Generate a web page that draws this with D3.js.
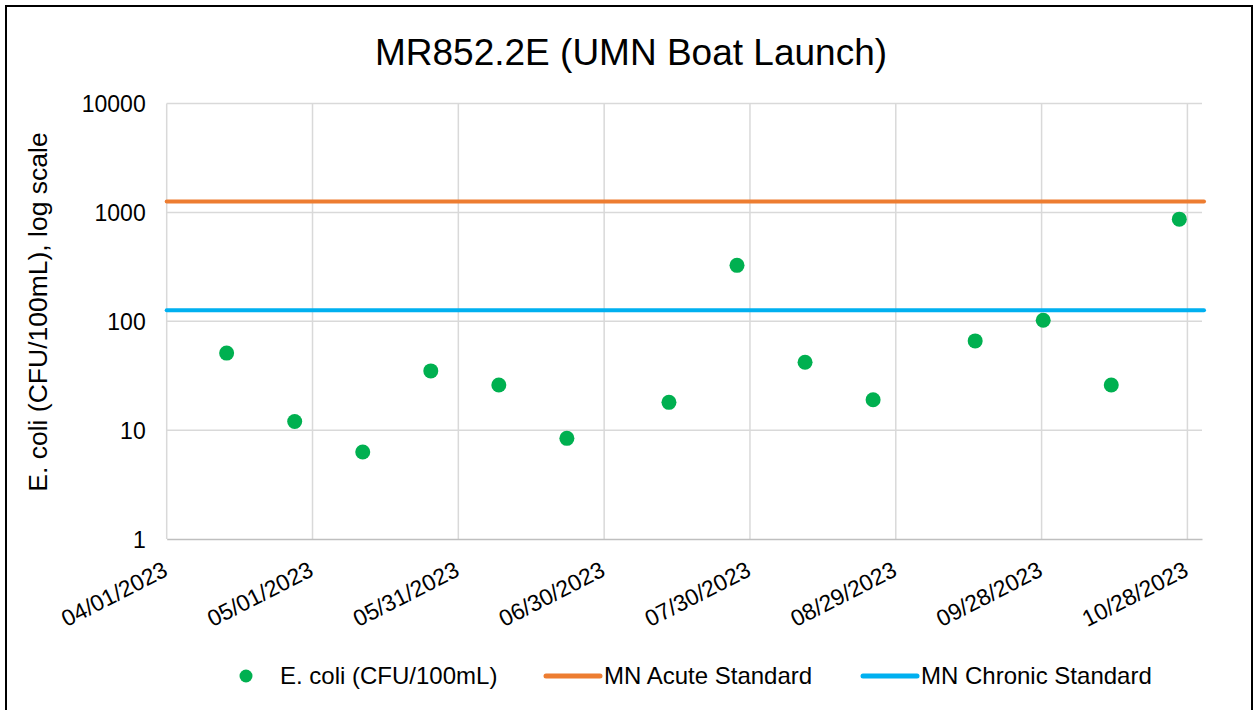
<!DOCTYPE html>
<html><head><meta charset="utf-8">
<script src="https://cdn.jsdelivr.net/npm/d3@7"></script>
<style>body{margin:0;background:#fff}svg{display:block;font-family:"Liberation Sans",Arial,sans-serif}</style>
</head><body><svg id="c" width="1255" height="710"></svg>
<script>
const title = "MR852.2E (UMN Boat Launch)";
const yTitle = "E. coli (CFU/100mL), log scale";
const sampleDates = ["2023-04-13","2023-04-27","2023-05-11","2023-05-25","2023-06-08","2023-06-22","2023-07-13","2023-07-27","2023-08-10","2023-08-24","2023-09-14","2023-09-28","2023-10-12","2023-10-26"];
const ecoliValues = [51,12,6.3,35,26,8.4,18,326,42,19,66,102,26,866];
const acuteStandard = 1260;
const chronicStandard = 126;
const yTicks = [1,10,100,1000,10000];
const xTickLabels = ["04/01/2023","05/01/2023","05/31/2023","06/30/2023","07/30/2023","08/29/2023","09/28/2023","10/28/2023"];
const legendLabels = ["E. coli (CFU/100mL)","MN Acute Standard","MN Chronic Standard"];
const colors = {ecoli:"#00b050", acute:"#ed7d31", chronic:"#00b0f0"};

const FONT = "'Liberation Sans', Arial, sans-serif";
const svg = d3.select("#c");
const parse = d3.timeParse("%Y-%m-%d");
const parseTick = d3.timeParse("%m/%d/%Y");
const fmt = d3.timeFormat("%m/%d/%Y");
const L=166.7, R=1202, T=103.5, B=539;
const x = d3.scaleTime().domain([parse("2023-04-01"), parse("2023-10-31")]).range([L,R]);
const y = d3.scaleLog().domain([1,10000]).range([B,T]);

// outer border
svg.append("rect").attr("x",6).attr("y",6).attr("width",1246).attr("height",712).attr("fill","none").attr("stroke","#000").attr("stroke-width",2);

svg.append("text").attr("x",631).attr("y",65).attr("text-anchor","middle").attr("font-size",37).attr("fill","#000").text(title);

const tickDates = xTickLabels.map(parseTick);
// gridlines
const grid = svg.append("g");
grid.selectAll("line.h").data(yTicks.slice(1)).join("line")
  .attr("x1",L).attr("x2",R).attr("y1",d=>y(d)).attr("y2",d=>y(d)).attr("stroke","#d9d9d9").attr("stroke-width",1.5);
grid.selectAll("line.v").data(tickDates).join("line")
  .attr("x1",d=>x(d)).attr("x2",d=>x(d)).attr("y1",T).attr("y2",B).attr("stroke","#d9d9d9").attr("stroke-width",1.5);

// axes
const yAxis = d3.axisLeft(y).tickValues(yTicks).tickFormat(d3.format("d")).tickSize(0).tickPadding(21);
const gy = svg.append("g").attr("transform",`translate(${L},0)`).call(yAxis);
gy.select(".domain").remove();
gy.selectAll("text").attr("font-size",23).attr("fill","#000").attr("font-family",FONT).attr("dy","0.36em");

const xAxis = d3.axisBottom(x).tickValues(tickDates).tickFormat(fmt).tickSize(0);
const gx = svg.append("g").attr("transform",`translate(0,${B})`).call(xAxis);
gx.select(".domain").attr("stroke","#bfbfbf").attr("stroke-width",1.5);
gx.selectAll("text").attr("font-size",23).attr("fill","#000").attr("font-family",FONT)
  .attr("text-anchor","end").attr("dy",0).attr("y",0)
  .attr("transform","translate(2,36) rotate(-27)");

svg.append("text").attr("transform","translate(47,312) rotate(-90)").attr("text-anchor","middle").attr("font-size",26.5).attr("fill","#000").text(yTitle);

// standard lines
[[acuteStandard,colors.acute],[chronicStandard,colors.chronic]].forEach(([v,c])=>{
  svg.append("line").attr("x1",L).attr("x2",R+2).attr("y1",y(v)).attr("y2",y(v)).attr("stroke",c).attr("stroke-width",4).attr("stroke-linecap","round");
});

// points (Excel date axis places points slightly inside the day slot)
const data = sampleDates.map((d,i)=>({date:d3.timeHour.offset(parse(d),8), v:ecoliValues[i]}));
svg.append("g").selectAll("circle").data(data).join("circle")
  .attr("cx",d=>x(d.date)).attr("cy",d=>y(d.v)).attr("r",7.5).attr("fill",colors.ecoli);

// legend
const lg = svg.append("g").attr("font-size",24).attr("fill","#000");
lg.append("circle").attr("cx",246).attr("cy",676).attr("r",6.5).attr("fill",colors.ecoli);
lg.append("text").attr("x",280).attr("y",684).text(legendLabels[0]);
lg.append("line").attr("x1",546).attr("x2",600).attr("y1",676).attr("y2",676).attr("stroke",colors.acute).attr("stroke-width",5).attr("stroke-linecap","round");
lg.append("text").attr("x",604).attr("y",684).text(legendLabels[1]);
lg.append("line").attr("x1",863).attr("x2",917).attr("y1",676).attr("y2",676).attr("stroke",colors.chronic).attr("stroke-width",5).attr("stroke-linecap","round");
lg.append("text").attr("x",921).attr("y",684).text(legendLabels[2]);
</script></body></html>
